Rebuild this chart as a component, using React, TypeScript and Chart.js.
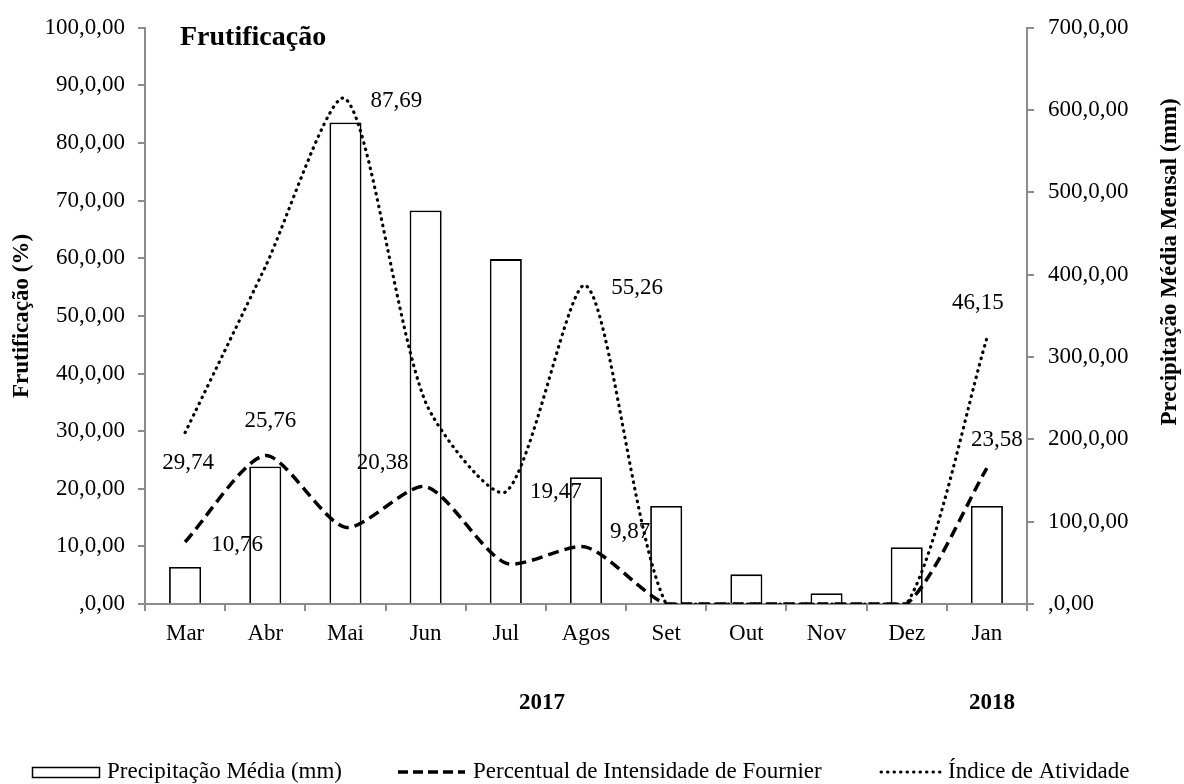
import React, { useEffect, useRef } from "react";
import { Chart, registerables } from "chart.js";

Chart.register(...registerables);

const categories = ["Mar", "Abr", "Mai", "Jun", "Jul", "Agos", "Set", "Out", "Nov", "Dez", "Jan"];
const precipitacao = [45, 167, 585, 478, 419, 154, 119, 36, 13, 69, 119];
const fournier = [10.76, 25.76, 13.3, 20.38, 7.1, 9.87, 0, 0, 0, 0, 23.58];
const atividade = [29.74, 58.5, 87.69, 35, 19.47, 55.26, 0, 0, 0, 0, 46.15];
const leftTicks = [0, 10, 20, 30, 40, 50, 60, 70, 80, 90, 100];
const rightTicks = [0, 100, 200, 300, 400, 500, 600, 700];
const fournierLabelIdx = [0, 1, 3, 5, 10];
const atividadeLabelIdx = [0, 2, 4, 5, 10];
const years = [
  { text: "2017", x: 542 },
  { text: "2018", x: 992 },
];

// label placement offsets (pixels) relative to the point
const fournierOffsets: Record<number, [number, number]> = {
  0: [52, 3],
  1: [5, -35],
  3: [-43, -24],
  5: [44, -15],
  10: [10, -28],
};
const atividadeOffsets: Record<number, [number, number]> = {
  0: [3, 30],
  2: [51, 2],
  4: [50, 0],
  5: [51, 2],
  10: [-9, -35],
};

const FONT = '"Liberation Serif", "Times New Roman", serif';
const fmtTick = (v: number) => (v === 0 ? ",0,00" : `${v},0,00`);
const fmtVal = (v: number) => v.toFixed(2).replace(".", ",");

const overlayPlugin = {
  id: "overlay",
  afterDatasetsDraw(chart: any) {
    const ctx = chart.ctx as CanvasRenderingContext2D;
    ctx.save();
    ctx.fillStyle = "#000";
    ctx.textAlign = "center";
    ctx.textBaseline = "middle";
    ctx.font = `23px ${FONT}`;
    const drawLabels = (dsIndex: number, idx: number[], offs: Record<number, [number, number]>, data: number[]) => {
      const meta = chart.getDatasetMeta(dsIndex);
      idx.forEach((i) => {
        const el = meta.data[i];
        const [dx, dy] = offs[i] || [0, 0];
        ctx.fillText(fmtVal(data[i]), el.x + dx, el.y + dy);
      });
    };
    drawLabels(1, fournierLabelIdx, fournierOffsets, fournier);
    drawLabels(2, atividadeLabelIdx, atividadeOffsets, atividade);

    // title
    ctx.textAlign = "left";
    ctx.textBaseline = "alphabetic";
    ctx.font = `bold 28px ${FONT}`;
    ctx.fillText("Frutificação", 180, 45);

    // years
    ctx.textAlign = "center";
    ctx.textBaseline = "middle";
    ctx.font = `bold 23px ${FONT}`;
    years.forEach((y) => ctx.fillText(y.text, y.x, 703));

    // axis titles
    ctx.save();
    ctx.translate(22, 316);
    ctx.rotate(-Math.PI / 2);
    ctx.fillText("Frutificação (%)", 0, 0);
    ctx.restore();
    ctx.save();
    ctx.translate(1170, 262);
    ctx.rotate(-Math.PI / 2);
    ctx.fillText("Precipitação Média Mensal (mm)", 0, 0);
    ctx.restore();

    // legend
    const ly = 772;
    ctx.font = `23px ${FONT}`;
    ctx.textAlign = "left";
    ctx.strokeStyle = "#000";
    ctx.lineWidth = 1.5;
    ctx.strokeRect(32.5, 767.5, 67, 10);
    ctx.fillText("Precipitação Média (mm)", 107, ly);

    ctx.lineWidth = 3.5;
    ctx.setLineDash([10, 5]);
    ctx.lineCap = "butt";
    ctx.beginPath();
    ctx.moveTo(398, ly);
    ctx.lineTo(465, ly);
    ctx.stroke();
    ctx.fillText("Percentual de Intensidade de Fournier", 473, ly);

    ctx.setLineDash([0.5, 6]);
    ctx.lineCap = "round";
    ctx.lineWidth = 3;
    ctx.beginPath();
    ctx.moveTo(881, ly);
    ctx.lineTo(943, ly);
    ctx.stroke();
    ctx.setLineDash([]);
    ctx.fillText("Índice de Atividade", 948, ly);
    ctx.restore();
  },
};

export default function App() {
  const ref = useRef<HTMLCanvasElement | null>(null);
  useEffect(() => {
    if (!ref.current) return;
    const gray = "#8c8c8c";
    const chart = new Chart(ref.current, {
      type: "bar",
      data: {
        labels: categories,
        datasets: [
          {
            type: "bar",
            label: "Precipitação Média (mm)",
            data: precipitacao,
            yAxisID: "y1",
            backgroundColor: "#ffffff",
            borderColor: "#000000",
            borderWidth: 1.8,
            barPercentage: 0.4,
            categoryPercentage: 1,
            order: 3,
          },
          {
            type: "line",
            label: "Percentual de Intensidade de Fournier",
            data: fournier,
            yAxisID: "y",
            borderColor: "#000000",
            borderWidth: 3.5,
            borderDash: [11, 6],
            pointRadius: 0,
            tension: 0.25,
            fill: false,
            order: 1,
          },
          {
            type: "line",
            label: "Índice de Atividade",
            data: atividade,
            yAxisID: "y",
            borderColor: "#000000",
            borderWidth: 3.2,
            borderDash: [0.5, 6],
            borderCapStyle: "round",
            pointRadius: 0,
            tension: 0.25,
            fill: false,
            order: 0,
          },
        ],
      },
      options: {
        responsive: false,
        animation: false,
        layout: { padding: { top: 27, left: 0, right: 0, bottom: 0 } },
        plugins: { legend: { display: false }, tooltip: { enabled: false } },
        scales: {
          x: {
            offset: true,
            grid: { offset: true, drawOnChartArea: false, tickLength: 7, color: gray, lineWidth: 2 },
            border: { color: gray, width: 2 },
            ticks: { color: "#000", font: { family: FONT, size: 23 }, padding: 9, maxRotation: 0 },
            afterFit: (s: any) => {
              s.height = 180;
            },
          },
          y: {
            position: "left",
            min: 0,
            max: 100,
            afterBuildTicks: (s: any) => {
              s.ticks = leftTicks.map((v) => ({ value: v }));
            },
            grid: { drawOnChartArea: false, tickLength: 7, color: gray, lineWidth: 2 },
            border: { color: gray, width: 2 },
            ticks: {
              color: "#000",
              font: { family: FONT, size: 23 },
              padding: 13,
              callback: (v: any) => fmtTick(Number(v)),
            },
            afterFit: (s: any) => {
              s.width = 145;
            },
          },
          y1: {
            position: "right",
            min: 0,
            max: 700,
            afterBuildTicks: (s: any) => {
              s.ticks = rightTicks.map((v) => ({ value: v }));
            },
            grid: { drawOnChartArea: false, tickLength: 7, color: gray, lineWidth: 2 },
            border: { color: gray, width: 2 },
            ticks: {
              color: "#000",
              font: { family: FONT, size: 23 },
              padding: 14,
              callback: (v: any) => fmtTick(Number(v)),
            },
            afterFit: (s: any) => {
              s.width = 157;
            },
          },
        },
      },
      plugins: [overlayPlugin],
    } as any);
    return () => chart.destroy();
  }, []);
  return (
    <div style={{ position: "fixed", left: 0, top: 0, width: 1184, height: 784, background: "#fff" }}>
      <canvas ref={ref} width={1184} height={784} style={{ display: "block" }} />
    </div>
  );
}
